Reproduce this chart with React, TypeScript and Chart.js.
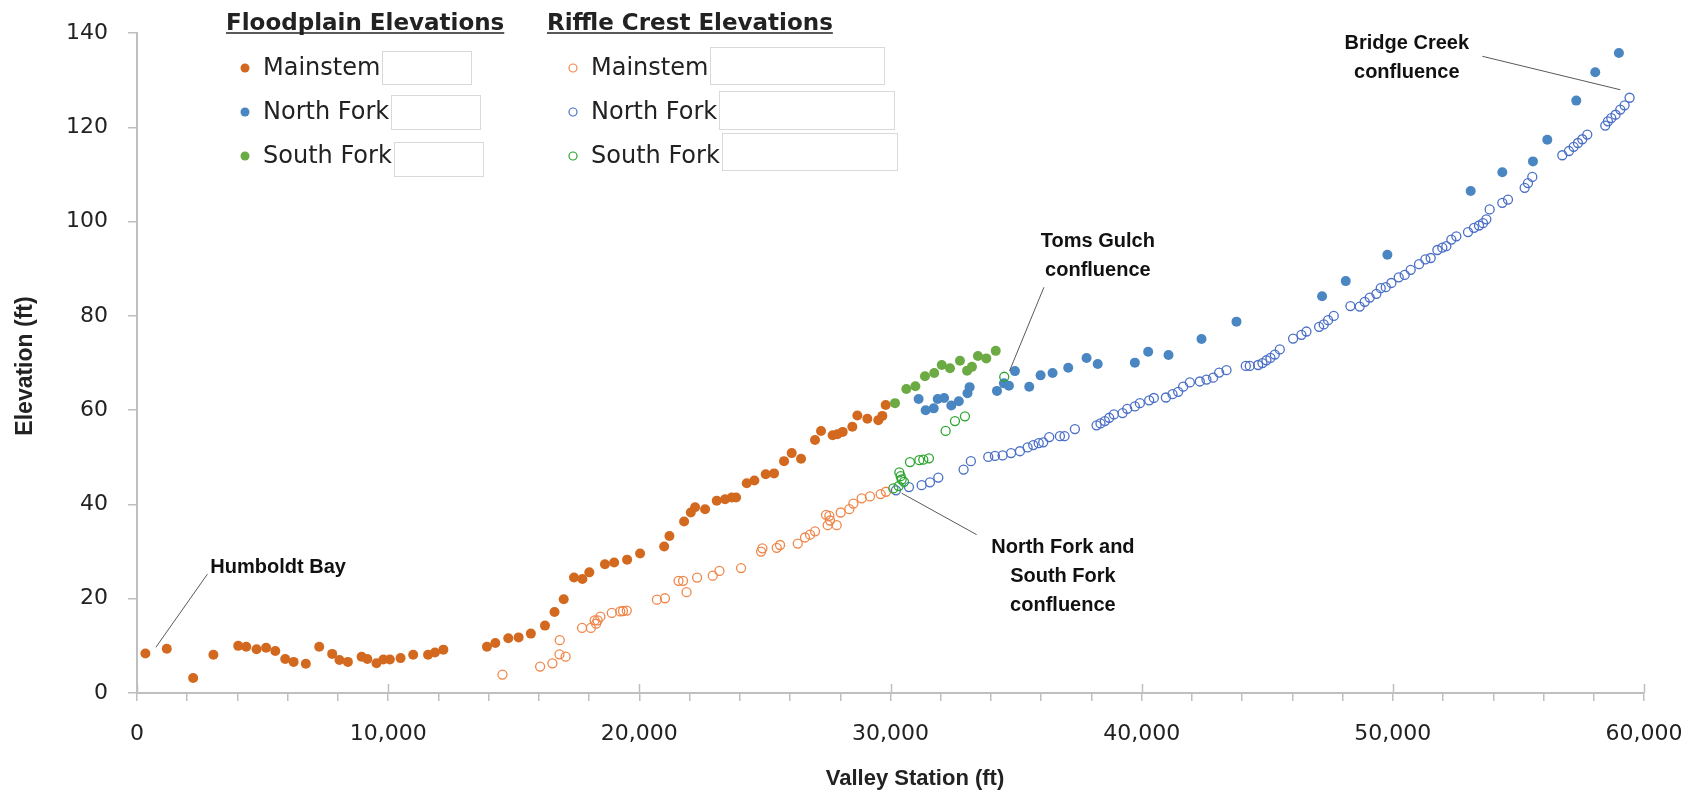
import { useEffect, useRef } from 'react';
import { Chart, registerables } from 'chart.js';

Chart.register(...registerables);

// ---------------- DATA ----------------
const floodMainstem: [number, number][] = [
  [335, 8.4], [1186, 9.4], [2236, 3.2], [3042, 8.1], [4030, 10.0], [4350, 9.8], [4760, 9.3],
  [5140, 9.6], [5506, 8.9], [5901, 7.2], [6236, 6.6], [6722, 6.2], [7255, 9.8], [7772, 8.3],
  [8061, 7.0], [8395, 6.6], [8943, 7.7], [9171, 7.2], [9536, 6.3], [9810, 7.1], [10068, 7.1],
  [10494, 7.4], [10996, 8.1], [11589, 8.1], [11863, 8.6], [12198, 9.2], [13932, 9.8],
  [14266, 10.6], [14783, 11.6], [15194, 11.8], [15681, 12.6], [16243, 14.3], [16624, 17.2],
  [16989, 19.9], [17399, 24.5], [17734, 24.2], [18008, 25.6], [18631, 27.3], [18997, 27.7],
  [19513, 28.3], [20030, 29.6], [20989, 31.1], [21199, 33.3], [21782, 36.4], [22048, 38.3],
  [22220, 39.4], [22618, 39.0], [23082, 40.8], [23414, 41.1], [23679, 41.5], [23852, 41.5],
  [24276, 44.5], [24581, 45.1], [25032, 46.4], [25364, 46.6], [25762, 49.2], [26067, 50.9],
  [26438, 49.7], [26995, 53.7], [27234, 55.6], [27698, 54.7], [27884, 54.9], [28096, 55.4],
  [28481, 56.5], [28680, 58.9], [29078, 58.2], [29515, 57.9], [29675, 58.8], [29808, 61.1],
];

const floodNorthFork: [number, number][] = [
  [31120, 62.4], [31399, 60.0], [31720, 60.4], [31880, 62.4], [32135, 62.6], [32420, 61.0],
  [32720, 61.9], [33065, 63.6], [33150, 64.9], [34240, 64.1], [34516, 65.7], [34715, 65.2],
  [34954, 68.3], [35524, 65.0], [35975, 67.4], [36452, 67.9], [37076, 69.0], [37806, 71.1],
  [38250, 69.8], [39729, 70.1], [40259, 72.4], [41069, 71.7], [42382, 75.1], [43775, 78.8],
  [47183, 84.2], [48125, 87.4], [49783, 93.0], [53099, 106.5], [54359, 110.5], [55579, 112.8],
  [56150, 117.4], [57304, 125.7], [58059, 131.7], [59001, 135.8],
];

const floodSouthFork: [number, number][] = [
  [30179, 61.5], [30630, 64.5], [30990, 65.1], [31372, 67.2], [31740, 67.9], [32040, 69.6],
  [32368, 68.9], [32765, 70.5], [33050, 68.4], [33243, 69.2], [33482, 71.5], [33814, 71.0],
  [34190, 72.6],
];

const riffleMainstem: [number, number][] = [
  [14550, 3.9], [16050, 5.6], [16540, 6.3], [16830, 11.2], [16820, 8.2], [17065, 7.7],
  [17720, 13.8], [18070, 13.8], [18280, 14.7], [18220, 15.4], [18340, 15.4], [18450, 16.2],
  [18905, 17.0], [19240, 17.3], [19350, 17.4], [19500, 17.5], [20700, 19.8], [21020, 20.1],
  [21560, 23.8], [21740, 23.8], [21880, 21.4], [22300, 24.5], [22923, 24.9], [23189, 25.9],
  [24051, 26.5], [24847, 30.0], [24900, 30.7], [25470, 30.8], [25603, 31.4], [26306, 31.7],
  [26597, 33.0], [26796, 33.6], [26995, 34.3], [27433, 37.8], [27566, 37.6], [27592, 36.6],
  [27499, 35.6], [27858, 35.6], [28016, 38.3], [28361, 39.0], [28521, 40.2], [28852, 41.3],
  [29184, 41.7], [29608, 42.2], [29820, 42.7],
];

const riffleNorthFork: [number, number][] = [
  [30218, 43.0], [30736, 43.7], [31240, 44.1], [31571, 44.7], [31903, 45.7], [32910, 47.4],
  [33200, 49.2], [33893, 50.1], [34158, 50.3], [34463, 50.4], [34800, 50.9], [35153, 51.3],
  [35458, 52.1], [35683, 52.6], [35900, 53.0], [36081, 53.2], [36320, 54.3], [36745, 54.5],
  [36930, 54.5], [37342, 56.0], [38204, 56.8], [38361, 57.2], [38535, 57.7], [38708, 58.4],
  [38894, 59.1], [39238, 59.4], [39424, 60.3], [39729, 60.8], [39928, 61.5], [40300, 62.1],
  [40485, 62.6], [40963, 62.7], [41228, 63.4], [41454, 63.9], [41652, 65.0], [41917, 65.9],
  [42315, 66.1], [42580, 66.5], [42845, 66.9], [43085, 68.0], [43377, 68.5], [44146, 69.4],
  [44305, 69.4], [44637, 69.6], [44809, 70.0], [44968, 70.6], [45127, 71.1], [45300, 71.8],
  [45499, 72.9], [46029, 75.2], [46361, 76.0], [46560, 76.7], [47064, 77.7], [47249, 78.2],
  [47422, 79.1], [47648, 80.0], [48311, 82.1], [48682, 82.0], [48881, 83.0], [49080, 83.9],
  [49345, 84.7], [49518, 85.9], [49717, 86.1], [49942, 87.0], [50234, 88.2], [50473, 88.7],
  [50711, 89.8], [51043, 91.0], [51295, 92.0], [51507, 92.3], [51773, 94.0], [51971, 94.5],
  [52131, 94.8], [52330, 96.2], [52529, 96.9], [52993, 97.8], [53232, 98.7], [53431, 99.2],
  [53590, 99.7], [53723, 100.5], [53855, 102.6], [54359, 104.0], [54585, 104.7], [55248, 107.2],
  [55381, 108.2], [55553, 109.5], [56747, 114.1], [57012, 115.0], [57198, 115.9], [57370, 116.7],
  [57543, 117.5], [57742, 118.5], [58458, 120.4], [58564, 121.3], [58697, 122.0], [58869, 122.7],
  [59055, 123.8], [59227, 124.7], [59426, 126.3],
];

const riffleSouthFork: [number, number][] = [
  [30112, 43.4], [30324, 43.9], [30351, 46.8], [30404, 46.0], [30444, 45.3], [30537, 44.8],
  [30775, 49.0], [31147, 49.4], [31306, 49.5], [31531, 49.8], [32195, 55.6], [32566, 57.7],
  [32964, 58.7], [34529, 67.1],
];

const xAxisMin = 0;
const xAxisMax = 60000;
const xMinorStep = 2000;
const xMajorStep = 10000;
const yAxisMin = 0;
const yAxisMax = 140;
const yStep = 20;

const legendGroups = ['Floodplain Elevations', 'Riffle Crest Elevations'];
const legendNames = ['Mainstem', 'North Fork', 'South Fork'];

const xTitle = 'Valley Station (ft)';
const yTitle = 'Elevation (ft)';

// annotations: text anchor and leader line in data units
const annotations = [
  { lines: ['Humboldt Bay'], x: 2921, y: 25.4, align: 'left', from: [2801, 25.2], to: [752, 9.7] },
  { lines: ['Toms Gulch', 'confluence'], x: 38257, y: 94.6, align: 'center', from: [36109, 86.1], to: [34735, 68.3] },
  { lines: ['North Fork and', 'South Fork', 'confluence'], x: 36864, y: 29.6, align: 'center', from: [33430, 33.6], to: [30445, 42.4] },
  { lines: ['Bridge Creek', 'confluence'], x: 50556, y: 136.6, align: 'center', from: [53565, 135.1], to: [59057, 128.0] },
];

// ---------------- STYLE ----------------
const C_ORANGE = '#D3691F';
const C_BLUE = '#4A86C1';
const C_GREEN = '#6CAA43';
const C_ORANGE_OPEN = '#F0874A';
const C_BLUE_OPEN = '#4A6FC6';
const C_GREEN_OPEN = '#2DA531';
const AXIS_COLOR = '#BFBFBF';
const TEXT_COLOR = '#222222';
const TICK_FONT = { family: '"DejaVu Sans", sans-serif', size: 22 };

const toPts = (arr: [number, number][]) => arr.map(([x, y]) => ({ x, y }));

const overlayPlugin = {
  id: 'overlay',
  afterDraw(chart: any) {
    const { ctx, chartArea, scales } = chart;
    const xs = scales.x;
    const ys = scales.y;
    ctx.save();

    // major ticks crossing the x axis
    ctx.strokeStyle = AXIS_COLOR;
    ctx.lineWidth = 1.5;
    for (let v = xAxisMin; v <= xAxisMax; v += xMajorStep) {
      const px = Math.round(xs.getPixelForValue(v)) + 0.5;
      ctx.beginPath();
      ctx.moveTo(px, chartArea.bottom - 9);
      ctx.lineTo(px, chartArea.bottom);
      ctx.stroke();
    }

    // annotations
    annotations.forEach((a) => {
      ctx.strokeStyle = '#595959';
      ctx.lineWidth = 1;
      ctx.beginPath();
      ctx.moveTo(xs.getPixelForValue(a.from[0]), ys.getPixelForValue(a.from[1]));
      ctx.lineTo(xs.getPixelForValue(a.to[0]), ys.getPixelForValue(a.to[1]));
      ctx.stroke();
      ctx.font = 'bold 20px "Liberation Sans", Arial, sans-serif';
      ctx.fillStyle = '#111111';
      ctx.textAlign = a.align;
      ctx.textBaseline = 'alphabetic';
      const px = xs.getPixelForValue(a.x);
      const py = ys.getPixelForValue(a.y);
      a.lines.forEach((t, i) => ctx.fillText(t, px, py + i * 28.7));
    });

    // legend
    const groups = [
      { title: legendGroups[0], tx: 226, mx: 245, textX: 263, open: false,
        colors: [C_ORANGE, C_BLUE, C_GREEN],
        boxes: [[89, 51, 33], [89, 95, 34], [89, 142, 34]] },
      { title: legendGroups[1], tx: 547, mx: 573, textX: 591, open: true,
        colors: [C_ORANGE_OPEN, C_BLUE_OPEN, C_GREEN_OPEN],
        boxes: [[174, 47, 37], [175, 91, 38], [175, 133, 37]] },
    ];
    const rowsY = [68, 112, 156];
    groups.forEach((g) => {
      ctx.font = 'bold 23px "DejaVu Sans", sans-serif';
      ctx.fillStyle = TEXT_COLOR;
      ctx.textAlign = 'left';
      ctx.textBaseline = 'alphabetic';
      ctx.fillText(g.title, g.tx, 29.5);
      const w = ctx.measureText(g.title).width;
      ctx.strokeStyle = TEXT_COLOR;
      ctx.lineWidth = 1.6;
      ctx.beginPath();
      ctx.moveTo(g.tx, 33);
      ctx.lineTo(g.tx + w, 33);
      ctx.stroke();

      legendNames.forEach((name, i) => {
        const y = rowsY[i];
        ctx.beginPath();
        if (g.open) {
          ctx.arc(g.mx, y, 4, 0, Math.PI * 2);
          ctx.strokeStyle = g.colors[i];
          ctx.lineWidth = 1.2;
          ctx.stroke();
        } else {
          ctx.arc(g.mx, y, 4.5, 0, Math.PI * 2);
          ctx.fillStyle = g.colors[i];
          ctx.fill();
        }
        ctx.font = '24px "DejaVu Sans", sans-serif';
        ctx.fillStyle = TEXT_COLOR;
        ctx.textBaseline = 'middle';
        ctx.fillText(name, g.textX, y + 1);
        const tw = ctx.measureText(name).width;
        const [bw, by, bh] = g.boxes[i];
        ctx.fillStyle = '#FFFFFF';
        ctx.fillRect(g.textX + tw + 2, by, bw, bh);
        ctx.strokeStyle = '#D9D9D9';
        ctx.lineWidth = 1;
        ctx.strokeRect(Math.round(g.textX + tw + 2) + 0.5, by + 0.5, bw, bh);
      });
    });

    // axis titles
    ctx.fillStyle = TEXT_COLOR;
    ctx.font = 'bold 22px "Liberation Sans", Arial, sans-serif';
    ctx.textAlign = 'center';
    ctx.textBaseline = 'middle';
    ctx.fillText(xTitle, 915, 779);
    ctx.font = 'bold 23px "Liberation Sans", Arial, sans-serif';
    ctx.translate(26, 366);
    ctx.rotate(-Math.PI / 2);
    ctx.fillText(yTitle, 0, 0);

    ctx.restore();
  },
};

export default function App() {
  const canvasRef = useRef<HTMLCanvasElement | null>(null);

  useEffect(() => {
    if (!canvasRef.current) return;
    const filled = (label: string, data: [number, number][], color: string, order: number) => ({
      label,
      data: toPts(data),
      backgroundColor: color,
      borderColor: color,
      borderWidth: 0,
      pointRadius: 5,
      pointStyle: 'circle',
      showLine: false,
      order,
    });
    const open = (label: string, data: [number, number][], color: string, order: number) => ({
      label,
      data: toPts(data),
      backgroundColor: 'rgba(255,255,255,0)',
      borderColor: color,
      borderWidth: 1.3,
      pointRadius: 4.5,
      pointStyle: 'circle',
      showLine: false,
      order,
    });

    const chart = new Chart(canvasRef.current, {
      type: 'scatter',
      data: {
        datasets: [
          filled('Floodplain Mainstem', floodMainstem, C_ORANGE, 6),
          filled('Floodplain North Fork', floodNorthFork, C_BLUE, 5),
          filled('Floodplain South Fork', floodSouthFork, C_GREEN, 4),
          open('Riffle Mainstem', riffleMainstem, C_ORANGE_OPEN, 3),
          open('Riffle North Fork', riffleNorthFork, C_BLUE_OPEN, 2),
          open('Riffle South Fork', riffleSouthFork, C_GREEN_OPEN, 1),
        ],
      },
      options: {
        responsive: false,
        animation: false,
        devicePixelRatio: 1,
        layout: { padding: { top: 25, right: 59, bottom: 0, left: 0 } },
        plugins: { legend: { display: false }, tooltip: { enabled: false }, title: { display: false } },
        scales: {
          x: {
            type: 'linear',
            min: xAxisMin,
            max: xAxisMax,
            afterFit: (s: any) => { s.height = 109; },
            ticks: {
              stepSize: xMinorStep,
              autoSkip: false,
              maxRotation: 0,
              minRotation: 0,
              padding: 20,
              color: TEXT_COLOR,
              font: TICK_FONT,
              callback: (v: any) => (Number(v) % xMajorStep === 0 ? Number(v).toLocaleString('en-US') : ''),
            },
            grid: { drawOnChartArea: false, drawTicks: true, tickLength: 8, color: AXIS_COLOR, lineWidth: 1.5 },
            border: { color: AXIS_COLOR, width: 2 },
          },
          y: {
            type: 'linear',
            min: yAxisMin,
            max: yAxisMax,
            afterFit: (s: any) => { s.width = 137; },
            ticks: { stepSize: yStep, padding: 20, color: TEXT_COLOR, font: TICK_FONT },
            grid: { drawOnChartArea: false, drawTicks: true, tickLength: 9, color: AXIS_COLOR, lineWidth: 1.5 },
            border: { color: AXIS_COLOR, width: 2 },
          },
        },
      },
      plugins: [overlayPlugin],
    } as any);

    return () => chart.destroy();
  }, []);

  return (
    <div style={{ position: 'absolute', left: 0, top: 0, width: 1703, height: 802, background: '#ffffff' }}>
      <canvas ref={canvasRef} width={1703} height={802} style={{ display: 'block', width: 1703, height: 802 }} />
    </div>
  );
}
